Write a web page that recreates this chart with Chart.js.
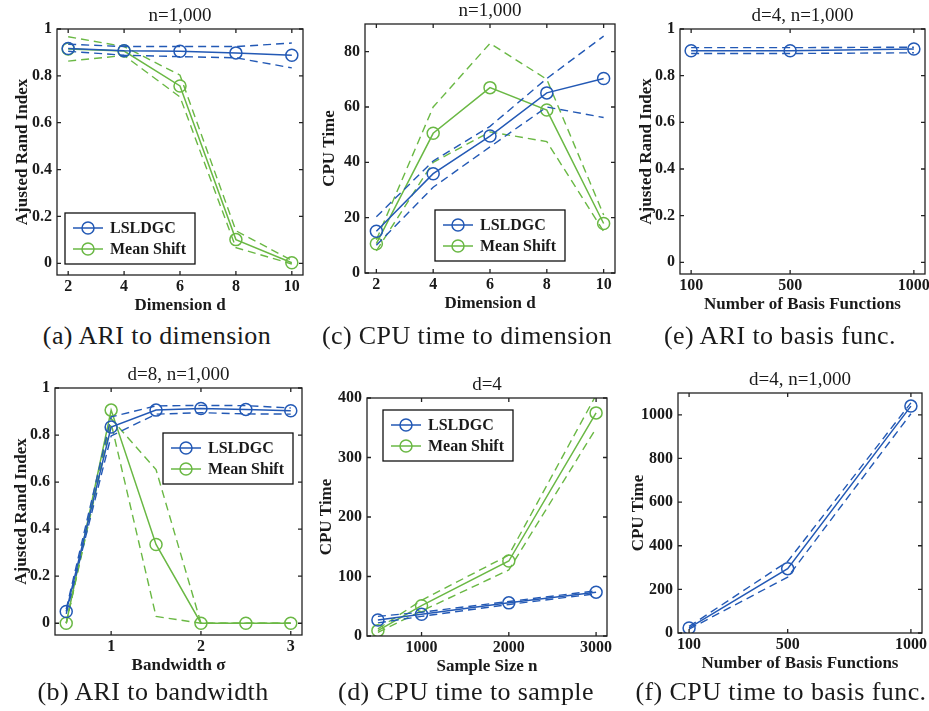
<!DOCTYPE html>
<html>
<head>
<meta charset="utf-8">
<script src="https://cdn.jsdelivr.net/npm/chart.js@4.4.0/dist/chart.umd.min.js"></script>
<style>
  body { margin: 0; background: #fff; width: 929px; height: 711px; position: relative; overflow: hidden; }
  canvas { position: absolute; }
  .cap { position: absolute; font-family: "Liberation Serif", serif; font-size: 26px; letter-spacing: 0.4px;
         color: #1a1a1a; transform: translateX(-50%); white-space: nowrap; line-height: 1; }
</style>
</head>
<body>
<canvas id="chartA"></canvas>
<canvas id="chartC"></canvas>
<canvas id="chartE"></canvas>
<canvas id="chartB"></canvas>
<canvas id="chartD"></canvas>
<canvas id="chartF"></canvas>
<div class="cap" style="left:157px; top:323px">(a) ARI to dimension</div>
<div class="cap" style="left:467px; top:323px">(c) CPU time to dimension</div>
<div class="cap" style="left:780px; top:323px">(e) ARI to basis func.</div>
<div class="cap" style="left:153px; top:679px">(b) ARI to bandwidth</div>
<div class="cap" style="left:466px; top:679px">(d) CPU time to sample</div>
<div class="cap" style="left:781px; top:679px">(f) CPU time to basis func.</div>
<script>
// (a) ARI vs dimension
const dims = [2, 4, 6, 8, 10];
const ariDimLsldgc = [0.917, 0.907, 0.905, 0.898, 0.888];
const ariDimLsldgcHi = [0.935, 0.925, 0.925, 0.925, 0.94];
const ariDimLsldgcLo = [0.905, 0.888, 0.882, 0.877, 0.834];
const ariDimMs = [0.915, 0.906, 0.757, 0.101, 0.002];
const ariDimMsHi = [0.967, 0.925, 0.803, 0.139, 0.012];
const ariDimMsLo = [0.863, 0.887, 0.71, 0.067, -0.003];

// (c) CPU time vs dimension
const cpuDimLsldgc = [15.1, 35.9, 49.5, 65.1, 70.3];
const cpuDimLsldgcHi = [20.3, 40.5, 53, 70.3, 85.6];
const cpuDimLsldgcLo = [10, 31, 45.6, 60, 56.2];
const cpuDimMs = [10.6, 50.5, 67, 58.9, 17.9];
const cpuDimMsHi = [12, 60, 83, 70, 21];
const cpuDimMsLo = [8, 40, 51, 47.5, 15];

// (e) ARI vs number of basis functions
const basisNums = [100, 500, 1000];
const ariBasis = [0.907, 0.907, 0.914];
const ariBasisHi = [0.92, 0.92, 0.922];
const ariBasisLo = [0.895, 0.895, 0.898];

// (b) ARI vs bandwidth
const bandwidths = [0.5, 1, 1.5, 2, 2.5, 3];
const ariBwLsldgc = [0.05, 0.834, 0.906, 0.913, 0.909, 0.903];
const ariBwLsldgcHi = [0.06, 0.877, 0.924, 0.926, 0.925, 0.915];
const ariBwLsldgcLo = [0.04, 0.796, 0.889, 0.895, 0.89, 0.889];
const ariBwMs = [0, 0.906, 0.335, 0, 0, 0];
const ariBwMsHi = [0, 0.87, 0.653, 0, 0, 0];
const ariBwMsLo = [0, 0.85, 0.029, 0, 0, 0];

// (d) CPU time vs sample size
const sampleSizes = [500, 1000, 2000, 3000];
const cpuSampleLsldgc = [27, 36.6, 55.7, 73.7];
const cpuSampleLsldgcHi = [33, 40, 58, 76];
const cpuSampleLsldgcLo = [22, 33, 53, 71];
const cpuSampleMs = [9, 51, 126, 375];
const cpuSampleMsHi = [12, 60, 136, 405];
const cpuSampleMsLo = [6, 42, 111, 349];

// (f) CPU time vs number of basis functions
const cpuBasis = [23, 295, 1040];
const cpuBasisHi = [30, 328, 1055];
const cpuBasisLo = [18, 256, 1005];

// tick labels
const dimTicks = [2, 4, 6, 8, 10];
const basisTicks = [100, 500, 1000];
const bwTicks = [1, 2, 3];
const sampleTicks = [1000, 2000, 3000];
const ariTicks = [0, 0.2, 0.4, 0.6, 0.8, 1];
const cpuDimTicks = [0, 20, 40, 60, 80];
const cpuSampleTicks = [0, 100, 200, 300, 400];
const cpuBasisTicks = [0, 200, 400, 600, 800, 1000];

const BLUE = '#2359b5';
const GREEN = '#6ab844';
const TEXT = '#1a1a1a';
const SERIF = '"Liberation Serif", "Times New Roman", serif';

function series(xs, ys, label, color) {
  return {
    label: label,
    data: xs.map((x, i) => ({ x: x, y: ys[i] })),
    borderColor: color,
    borderWidth: 1.5,
    pointRadius: 6,
    pointBorderWidth: 1.5,
    pointBorderColor: color,
    pointBackgroundColor: 'rgba(0,0,0,0)',
    tension: 0,
    fill: false
  };
}

function band(xs, ys, color) {
  return {
    label: '',
    data: xs.map((x, i) => ({ x: x, y: ys[i] })),
    borderColor: color,
    borderWidth: 1.4,
    borderDash: [8, 5],
    pointRadius: 0,
    tension: 0,
    fill: false
  };
}

// box, inward ticks, title and legend in the MATLAB look
const panelDecor = {
  id: 'panelDecor',
  afterDatasetsDraw(chart, args, o) {
    const ctx = chart.ctx;
    const a = chart.chartArea;
    const x = chart.scales.x, y = chart.scales.y;
    ctx.save();
    ctx.strokeStyle = '#222';
    ctx.lineWidth = 1.3;
    ctx.setLineDash([]);
    ctx.beginPath();
    x.ticks.forEach(t => {
      const px = x.getPixelForValue(t.value);
      ctx.moveTo(px, a.bottom); ctx.lineTo(px, a.bottom - 4);
      ctx.moveTo(px, a.top); ctx.lineTo(px, a.top + 4);
    });
    y.ticks.forEach(t => {
      const py = y.getPixelForValue(t.value);
      ctx.moveTo(a.left, py); ctx.lineTo(a.left + 4, py);
      ctx.moveTo(a.right, py); ctx.lineTo(a.right - 4, py);
    });
    ctx.stroke();
    ctx.strokeRect(a.left, a.top, a.right - a.left, a.bottom - a.top);

    ctx.fillStyle = TEXT;
    ctx.font = '19px ' + SERIF;
    ctx.textAlign = 'center';
    ctx.textBaseline = 'middle';
    ctx.fillText(o.title, (a.left + a.right) / 2, a.top - 13);

    if (o.legend) {
      const entries = chart.data.datasets.filter(d => d.label);
      const lx = a.left + o.legend.x, ly = a.top + o.legend.y;
      const lw = 130, lh = 51;
      ctx.fillStyle = '#fff';
      ctx.fillRect(lx, ly, lw, lh);
      ctx.strokeStyle = '#111';
      ctx.lineWidth = 1.3;
      ctx.strokeRect(lx, ly, lw, lh);
      entries.forEach((d, i) => {
        const ry = ly + 15 + i * 21;
        ctx.strokeStyle = d.borderColor;
        ctx.lineWidth = 1.5;
        ctx.beginPath();
        ctx.moveTo(lx + 8, ry); ctx.lineTo(lx + 38, ry);
        ctx.stroke();
        ctx.beginPath();
        ctx.arc(lx + 23, ry, 6, 0, Math.PI * 2);
        ctx.stroke();
        ctx.fillStyle = TEXT;
        ctx.font = 'bold 16px ' + SERIF;
        ctx.textAlign = 'left';
        ctx.fillText(d.label, lx + 45, ry + 1);
      });
    }
    ctx.restore();
  }
};

function buildPanel(id, area, p) {
  const padL = 55, padT = 32, padR = 18, padB = 44;
  const canvas = document.getElementById(id);
  const w = area.right - area.left + padL + padR;
  const h = area.bottom - area.top + padT + padB;
  canvas.width = w;
  canvas.height = h;
  canvas.style.width = w + 'px';
  canvas.style.height = h + 'px';
  canvas.style.left = (area.left - padL) + 'px';
  canvas.style.top = (area.top - padT) + 'px';

  const tickFont = { family: SERIF, size: 16, weight: 'bold' };
  const titleFont = { family: SERIF, size: 17, weight: 'bold' };

  return new Chart(canvas, {
    type: 'line',
    data: { datasets: p.datasets },
    options: {
      responsive: false,
      animation: false,
      events: [],
      layout: { padding: { top: padT, right: padR, left: 0, bottom: 0 } },
      plugins: {
        legend: { display: false },
        tooltip: { enabled: false },
        panelDecor: { title: p.title, legend: p.legend }
      },
      scales: {
        x: {
          type: 'linear',
          min: p.xMin,
          max: p.xMax,
          grid: { display: false, drawTicks: false },
          border: { display: false },
          afterFit: s => { s.height = padB; },
          afterBuildTicks: s => { s.ticks = p.xTicks.map(v => ({ value: v })); },
          ticks: { padding: 2, color: TEXT, font: tickFont, maxRotation: 0, autoSkip: false,
                   callback: v => String(v) },
          title: { display: true, text: p.xTitle, color: TEXT, font: titleFont,
                   padding: { top: 0, bottom: 3 } }
        },
        y: {
          type: 'linear',
          min: p.yMin,
          max: p.yMax,
          grid: { display: false, drawTicks: false },
          border: { display: false },
          afterFit: s => { s.width = padL; },
          afterBuildTicks: s => { s.ticks = p.yTicks.map(v => ({ value: v })); },
          ticks: { padding: 5, color: TEXT, font: tickFont, autoSkip: false,
                   callback: v => String(v) },
          title: { display: true, text: p.yTitle, color: TEXT, font: titleFont,
                   padding: { top: p.yTitlePad, bottom: 0 } }
        }
      }
    },
    plugins: [panelDecor]
  });
}

buildPanel('chartA', { left: 57, top: 29, right: 303, bottom: 275 }, {
  title: 'n=1,000',
  xTitle: 'Dimension d', yTitle: 'Ajusted Rand Index', yTitlePad: 10,
  xMin: 1.6, xMax: 10.4, yMin: -0.05, yMax: 1,
  xTicks: dimTicks, yTicks: ariTicks,
  legend: { x: 8, y: 184 },
  datasets: [
    series(dims, ariDimMs, 'Mean Shift', GREEN),
    band(dims, ariDimMsHi, GREEN),
    band(dims, ariDimMsLo, GREEN),
    series(dims, ariDimLsldgc, 'LSLDGC', BLUE),
    band(dims, ariDimLsldgcHi, BLUE),
    band(dims, ariDimLsldgcLo, BLUE)
  ].reverse()
});

buildPanel('chartC', { left: 365, top: 24, right: 615, bottom: 273 }, {
  title: 'n=1,000',
  xTitle: 'Dimension d', yTitle: 'CPU Time', yTitlePad: 9,
  xMin: 1.6, xMax: 10.4, yMin: 0, yMax: 90,
  xTicks: dimTicks, yTicks: cpuDimTicks,
  legend: { x: 70, y: 186 },
  datasets: [
    series(dims, cpuDimLsldgc, 'LSLDGC', BLUE),
    band(dims, cpuDimLsldgcHi, BLUE),
    band(dims, cpuDimLsldgcLo, BLUE),
    series(dims, cpuDimMs, 'Mean Shift', GREEN),
    band(dims, cpuDimMsHi, GREEN),
    band(dims, cpuDimMsLo, GREEN)
  ]
});

buildPanel('chartE', { left: 680, top: 29, right: 925, bottom: 274 }, {
  title: 'd=4, n=1,000',
  xTitle: 'Number of Basis Functions', yTitle: 'Ajusted Rand Index', yTitlePad: 11,
  xMin: 55, xMax: 1045, yMin: -0.05, yMax: 1,
  xTicks: basisTicks, yTicks: ariTicks,
  legend: null,
  datasets: [
    series(basisNums, ariBasis, '', BLUE),
    band(basisNums, ariBasisHi, BLUE),
    band(basisNums, ariBasisLo, BLUE)
  ]
});

buildPanel('chartB', { left: 55, top: 388, right: 302, bottom: 635 }, {
  title: 'd=8, n=1,000',
  xTitle: 'Bandwidth σ', yTitle: 'Ajusted Rand Index', yTitlePad: 11,
  xMin: 0.375, xMax: 3.125, yMin: -0.05, yMax: 1,
  xTicks: bwTicks, yTicks: ariTicks,
  legend: { x: 108, y: 45 },
  datasets: [
    series(bandwidths, ariBwLsldgc, 'LSLDGC', BLUE),
    band(bandwidths, ariBwLsldgcHi, BLUE),
    band(bandwidths, ariBwLsldgcLo, BLUE),
    series(bandwidths, ariBwMs, 'Mean Shift', GREEN),
    band(bandwidths, ariBwMsHi, GREEN),
    band(bandwidths, ariBwMsLo, GREEN)
  ]
});

buildPanel('chartD', { left: 367, top: 398, right: 607, bottom: 636 }, {
  title: 'd=4',
  xTitle: 'Sample Size n', yTitle: 'CPU Time', yTitlePad: 4,
  xMin: 375, xMax: 3125, yMin: 0, yMax: 400,
  xTicks: sampleTicks, yTicks: cpuSampleTicks,
  legend: { x: 16, y: 12 },
  datasets: [
    series(sampleSizes, cpuSampleLsldgc, 'LSLDGC', BLUE),
    band(sampleSizes, cpuSampleLsldgcHi, BLUE),
    band(sampleSizes, cpuSampleLsldgcLo, BLUE),
    series(sampleSizes, cpuSampleMs, 'Mean Shift', GREEN),
    band(sampleSizes, cpuSampleMsHi, GREEN),
    band(sampleSizes, cpuSampleMsLo, GREEN)
  ]
});

buildPanel('chartF', { left: 678, top: 393, right: 922, bottom: 633 }, {
  title: 'd=4, n=1,000',
  xTitle: 'Number of Basis Functions', yTitle: 'CPU Time', yTitlePad: 5,
  xMin: 55, xMax: 1045, yMin: 0, yMax: 1100,
  xTicks: basisTicks, yTicks: cpuBasisTicks,
  legend: null,
  datasets: [
    series(basisNums, cpuBasis, '', BLUE),
    band(basisNums, cpuBasisHi, BLUE),
    band(basisNums, cpuBasisLo, BLUE)
  ]
});
</script>
</body>
</html>
